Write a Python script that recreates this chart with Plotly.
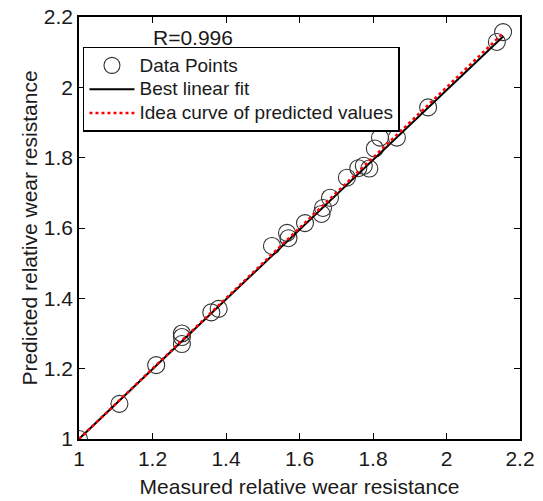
import plotly.graph_objects as go

measured = [1.00, 1.11, 1.21, 1.28, 1.28, 1.28, 1.36, 1.38, 1.525, 1.566, 1.57, 1.615,
            1.66, 1.664, 1.683, 1.729, 1.76, 1.775, 1.79, 1.805, 1.819, 1.865, 1.95, 2.137, 2.154]
predicted = [1.00, 1.10, 1.21, 1.29, 1.30, 1.27, 1.36, 1.37, 1.549, 1.586, 1.571, 1.614,
             1.64, 1.657, 1.686, 1.743, 1.77, 1.777, 1.769, 1.826, 1.857, 1.857, 1.943, 2.129, 2.157]
fit_slope = 0.992
fit_intercept = 0.008
r_value = 0.996
tick_vals = [1, 1.2, 1.4, 1.6, 1.8, 2, 2.2]
tick_text = ["1", "1.2", "1.4", "1.6", "1.8", "2", "2.2"]
legend_names = ["Data Points", "Best linear fit", "Idea curve of predicted values"]

xmin, xmax = min(measured), max(measured)
fit_x = [xmin, xmax]
fit_y = [fit_slope * v + fit_intercept for v in fit_x]
ideal_x = [xmin, xmax]
ideal_y = [xmin, xmax]


def lname(s):
    return "<span style='font-size:19px'>" + s + "</span>"


fig = go.Figure()
fig.add_trace(go.Scatter(x=measured, y=predicted, mode="markers", name=lname(legend_names[0]),
                         marker=dict(symbol="circle-open", size=17, color="#333",
                                     line=dict(width=1.1))))
fig.add_trace(go.Scatter(x=fit_x, y=fit_y, mode="lines", name=lname(legend_names[1]),
                         line=dict(color="black", width=2)))
fig.add_trace(go.Scatter(x=ideal_x, y=ideal_y, mode="lines", name=lname(legend_names[2]),
                         line=dict(color="red", width=2.5, dash="dot")))

axis_common = dict(range=[1, 2.2], tickvals=tick_vals, ticktext=tick_text,
                   ticks="inside", ticklen=6, tickcolor="black", showline=True,
                   linecolor="black", linewidth=1.5, mirror="ticks", showgrid=False,
                   zeroline=False, automargin=False, tickfont=dict(size=21, color="#1a1a1a"))

fig.update_layout(
    width=543, height=501,
    margin=dict(l=79, r=23, t=17, b=62),
    paper_bgcolor="white", plot_bgcolor="white",
    font=dict(family="Liberation Sans, Arial, sans-serif", color="#1a1a1a"),
    showlegend=True,
    legend=dict(x=0.009, y=0.929, xanchor="left", yanchor="top",
                bordercolor="black", borderwidth=1.5, bgcolor="white",
                font=dict(size=16), tracegroupgap=0, itemwidth=45),
    xaxis=dict(**axis_common, title=dict(text="Measured relative wear resistance",
                                         font=dict(size=21), standoff=10)),
    yaxis=dict(**axis_common, title=dict(text="Predicted relative wear resistance",
                                         font=dict(size=21), standoff=0)),
    annotations=[dict(x=1.31, y=2.143, xref="x", yref="y", xanchor="center", yanchor="middle",
                      text=f"R={r_value}", showarrow=False, font=dict(size=21, color="#1a1a1a"))],
)
fig.write_html("out.html", config={"displayModeBar": False},
               post_script="document.body.style.margin='0';")
